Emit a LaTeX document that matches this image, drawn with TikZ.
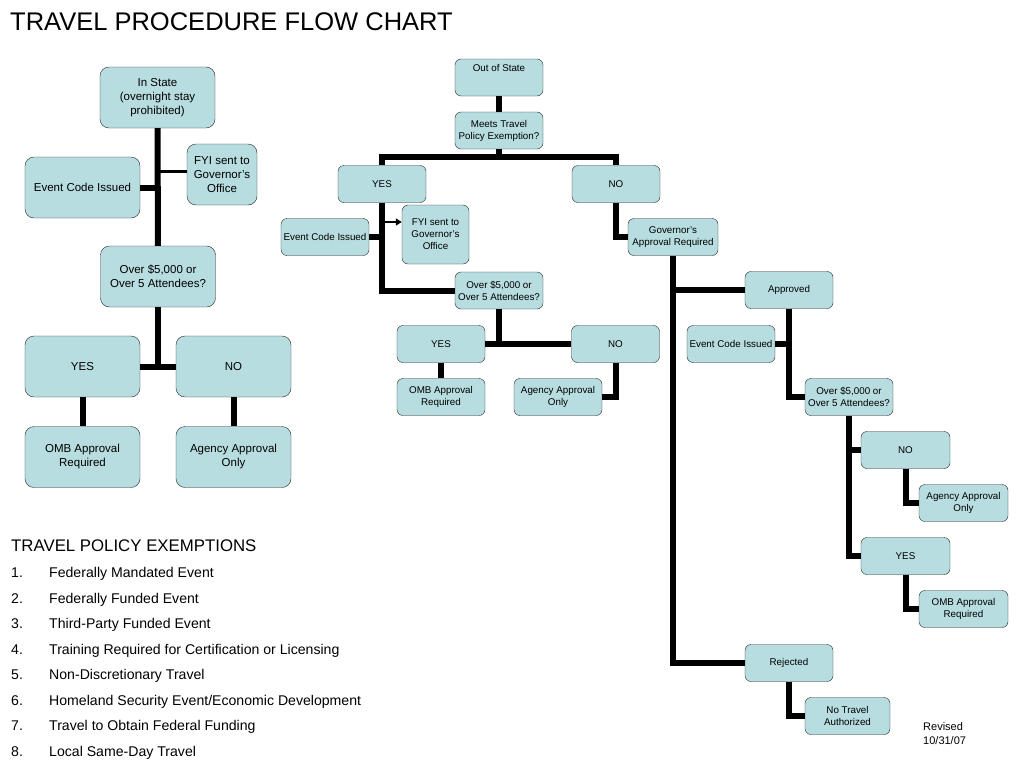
\documentclass[tikz,border=0pt]{standalone}
\usepackage{fontspec}
\setmainfont{Liberation Sans}
\usetikzlibrary{arrows.meta}
\definecolor{boxfill}{RGB}{183,221,224}
\tikzset{
  bigbox/.style={draw=black!85, fill=boxfill, rounded corners=9pt, align=center,
    font=\fontsize{11.5}{14}\selectfont, minimum width=115pt, minimum height=61pt, inner sep=1pt},
  smallbox/.style={draw=black!85, fill=boxfill, rounded corners=6pt, align=center,
    font=\fontsize{9.8}{12}\selectfont, minimum width=88pt, minimum height=37pt, inner sep=1pt},
  link/.style={line width=6pt},
  thinlink/.style={line width=2.2pt}
}
\begin{document}
\begin{tikzpicture}[x=1pt,y=-1pt]
    \useasboundingbox (0,0) rectangle (1024,768);

    \node[anchor=base west, inner sep=0, font=\fontsize{25.5}{30}\selectfont] (title) at (10,31) {TRAVEL PROCEDURE FLOW CHART};

    % in state
    \node[bigbox] (instate) at (157.5,97.5) {In State\\(overnight stay\\prohibited)};
    \node[bigbox] (eci1) at (82.5,187.5) {Event Code Issued};
    \node[bigbox, minimum width=70pt] (fyi1) at (222,174.5) {FYI sent to\\Governor's\\Office};
    \node[bigbox] (over1) at (158,276.5) {Over \$5,000 or\\Over 5 Attendees?};
    \node[bigbox] (yes1) at (82.5,366.5) {YES};
    \node[bigbox] (no1) at (233.5,366.5) {NO};
    \node[bigbox] (omb1) at (82.5,457) {OMB Approval\\Required};
    \node[bigbox] (agency1) at (233.5,457) {Agency Approval\\Only};

    \draw[link] (instate) -- (over1);
    \draw[link] (eci1.east) -- (eci1.east -| instate.south);
    \draw[thinlink] ([yshift=3pt]fyi1.west) -- ([yshift=3pt]fyi1.west -| instate.south);
    \draw[link] (over1.south) -- (over1.south |- yes1.east);
    \draw[link] (yes1) -- (no1);
    \draw[link] (yes1) -- (omb1);
    \draw[link] (no1) -- (agency1);

    % out of state
    \node[smallbox, text depth=20pt] (outstate) at (499,77.5) {Out of State};
    \node[smallbox] (meets) at (499,130.5) {Meets Travel\\Policy Exemption?};
    \node[smallbox] (yes2) at (382,184) {YES};
    \node[smallbox] (no2) at (616,184) {NO};
    \node[smallbox] (eci2) at (325,237) {Event Code Issued};
    \node[smallbox, minimum width=67pt, minimum height=59pt] (fyi2) at (435.5,234.5) {FYI sent to\\Governor's\\Office};
    \node[smallbox, minimum width=90pt] (gov) at (673,237) {Governor's\\Approval Required};
    \node[smallbox] (over2) at (499,290.5) {Over \$5,000 or\\Over 5 Attendees?};
    \node[smallbox] (yes3) at (441,344) {YES};
    \node[smallbox] (no3) at (615.5,344) {NO};
    \node[smallbox] (omb3) at (441,397) {OMB Approval\\Required};
    \node[smallbox] (agency3) at (558,397) {Agency Approval\\Only};

    \coordinate (bar2) at (499,157);
    \coordinate (tap2) at (382,222);
    \draw[link] (outstate) -- (meets);
    \draw[link] (meets) -- (bar2);
    \draw[link] (yes2.north) |- (bar2) -| (no2.north);
    \draw[link] (yes2.south) |- (over2.west);
    \draw[link] (eci2.east) -- (eci2.east -| yes2.south);
    \draw[thinlink, -{Triangle[length=6pt,width=7pt]}] (tap2) -- (tap2 -| fyi2.west);
    \draw[link] (over2.south) -- (over2.south |- yes3.east);
    \draw[link] (yes3) -- (no3);
    \draw[link] (yes3) -- (omb3);
    \draw[link] (no3.south) |- (agency3.east);
    \draw[link] (no2.south) |- (gov.west);

    % governor's decision
    \node[smallbox] (approved) at (789,290) {Approved};
    \node[smallbox] (eci4) at (731,344) {Event Code Issued};
    \node[smallbox] (over4) at (849,397) {Over \$5,000 or\\Over 5 Attendees?};
    \node[smallbox, minimum width=89pt] (no4) at (905.5,450) {NO};
    \node[smallbox, minimum width=89pt] (agency4) at (963.5,503) {Agency Approval\\Only};
    \node[smallbox, minimum width=89pt] (yes4) at (905.5,556) {YES};
    \node[smallbox, minimum width=89pt] (omb4) at (963.5,609) {OMB Approval\\Required};
    \node[smallbox] (rejected) at (789,663) {Rejected};
    \node[smallbox, minimum width=85pt] (notravel) at (847.5,716) {No Travel\\Authorized};

    \draw[link] (gov.south) |- (rejected.west);
    \draw[link] (approved.west) -- (approved.west -| gov.south);
    \draw[link] (eci4.east) -- (eci4.east -| approved.south);
    \draw[link] (approved.south) |- (over4.west);
    \draw[link] (over4.south) |- (yes4.west);
    \draw[link] (no4.west) -- (no4.west -| over4.south);
    \draw[link] (no4.south) |- (agency4.west);
    \draw[link] (yes4.south) |- (omb4.west);
    \draw[link] (rejected.south) |- (notravel.west);

    \node[anchor=north west, inner sep=0, align=left, font=\fontsize{11}{14}\selectfont] (revised) at (923,722) {Revised\\10/31/07};

    % exemptions list
    \node[anchor=base west, inner sep=0, font=\fontsize{16.8}{20}\selectfont] (exhead) at (11,551) {TRAVEL POLICY EXEMPTIONS};
    \foreach \entry [count=\k] in {Federally Mandated Event, Federally Funded Event,
        Third-Party Funded Event, Training Required for Certification or Licensing,
        Non-Discretionary Travel, Homeland Security Event/Economic Development,
        Travel to Obtain Federal Funding, Local Same-Day Travel}{
      \node[anchor=base west, inner sep=0, font=\fontsize{14.1}{17}\selectfont] (num\k) at (11,{551.9+25.57*\k}) {\k.};
      \node[anchor=base west, inner sep=0, font=\fontsize{14.1}{17}\selectfont] (ex\k) at (49,{551.9+25.57*\k}) {\entry};
    }
  \end{tikzpicture}
\end{document}
